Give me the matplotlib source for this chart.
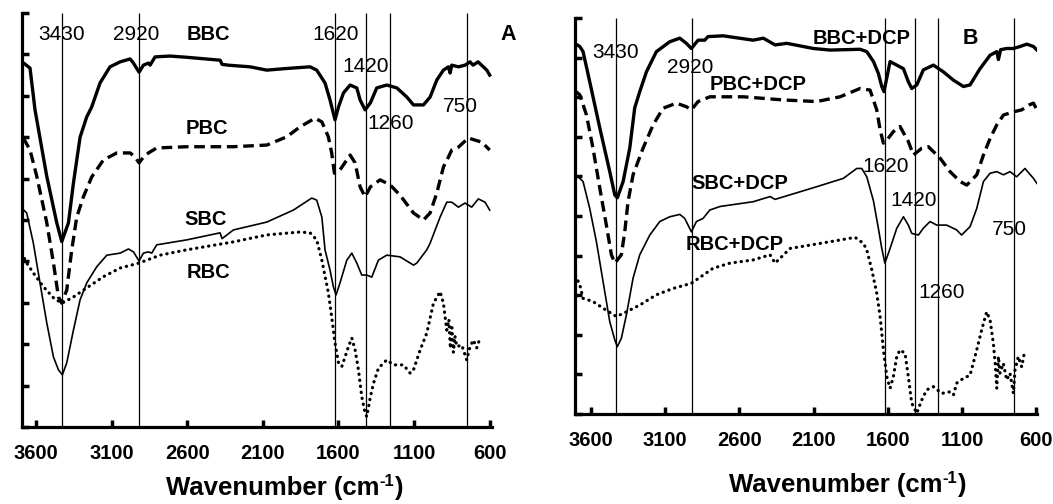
import matplotlib.pyplot as plt
from matplotlib.transforms import offset_copy

plt.rcParams['font.family'] = ['Liberation Sans', 'DejaVu Sans']

peaks = [3430, 2920, 1620, 1420, 1260, 750]
xticks = [3600, 3100, 2600, 2100, 1600, 1100, 600]

# ---- panel A ----
bbc_wn = [3693, 3640, 3607, 3529, 3463, 3430, 3386, 3353, 3309, 3265, 3232, 3177, 3111, 3044, 2978, 2956, 2919,
          2890, 2857, 2846, 2813, 2714, 2603, 2383, 2370, 2330, 2185, 2074, 1942, 1788, 1744, 1689, 1656, 1634, 1623,
          1600, 1567, 1523, 1479, 1457, 1424, 1389, 1347, 1281, 1214, 1148, 1104, 1038, 994, 950, 906, 873, 862,
          851, 807, 763, 730, 710, 677, 619, 600]
bbc_val = [8.82, 8.67, 7.66, 6.05, 4.93, 4.48, 4.93, 5.89, 7.0, 7.49, 7.73, 8.31, 8.70, 8.82, 8.89, 8.79, 8.57,
           8.74, 8.79, 8.74, 8.94, 8.96, 8.93, 8.86, 8.76, 8.74, 8.70, 8.62, 8.66, 8.70, 8.62, 8.31, 7.90, 7.58, 7.42,
           7.73, 8.07, 8.26, 8.19, 7.90, 7.66, 7.83, 8.19, 8.26, 8.19, 7.97, 7.78, 7.78, 7.97, 8.38, 8.62, 8.70, 8.55,
           8.74, 8.70, 8.74, 8.82, 8.74, 8.82, 8.62, 8.50]

pbc_wn = [3684, 3640, 3595, 3529, 3485, 3452, 3430, 3397, 3364, 3331, 3287, 3232, 3155, 3066, 2978, 2945, 2919,
          2890, 2857, 2802, 2603, 2297, 2074, 1942, 1854, 1755, 1710, 1667, 1645, 1627, 1590, 1523, 1490, 1457,
          1424, 1389, 1325, 1259, 1193, 1104, 1038, 994, 950, 906, 873, 851, 807, 741, 697, 652, 600]
pbc_val = [6.98, 6.69, 6.05, 4.93, 3.96, 3.14, 2.99, 3.31, 4.28, 5.07, 5.56, 6.04, 6.45, 6.62, 6.62, 6.52, 6.38,
           6.52, 6.62, 6.74, 6.77, 6.77, 6.81, 7.01, 7.25, 7.46, 7.37, 7.01, 6.62, 6.13, 6.21, 6.57, 6.38, 5.80,
           5.56, 5.80, 5.97, 5.85, 5.60, 5.17, 5.00, 5.17, 5.65, 6.28, 6.52, 6.69, 6.76, 6.98, 6.93, 6.88, 6.69]

sbc_wn = [3695, 3662, 3618, 3574, 3529, 3485, 3452, 3426, 3397, 3353, 3309, 3265, 3199, 3132, 3044, 2989, 2956,
          2919, 2890, 2857, 2835, 2802, 2603, 2383, 2370, 2295, 2074, 1898, 1777, 1744, 1710, 1689, 1656, 1634,
          1616, 1590, 1545, 1512, 1479, 1446, 1413, 1380, 1336, 1281, 1193, 1104, 1082, 1016, 994, 928, 884, 851,
          807, 763, 719, 675, 631, 600]
sbc_val = [5.29, 5.17, 4.44, 3.48, 2.51, 1.69, 1.38, 1.26, 1.55, 2.34, 3.07, 3.48, 3.87, 4.15, 4.20, 4.30, 4.23,
           4.01, 4.20, 4.23, 4.20, 4.40, 4.52, 4.69, 4.55, 4.76, 4.95, 5.24, 5.53, 5.48, 5.07, 4.28, 3.79, 3.39,
           3.19, 3.48, 4.03, 4.20, 3.96, 3.67, 3.67, 3.62, 4.03, 4.15, 4.11, 3.91, 3.96, 4.28, 4.44, 5.07, 5.43, 5.43,
           5.31, 5.41, 5.31, 5.51, 5.43, 5.24]

rbc_wn = [3695, 3662, 3618, 3552, 3485, 3430, 3353, 3265, 3155, 3044, 2919, 2780, 2603, 2297, 2074, 1854, 1788,
          1744, 1710, 1667, 1645, 1623, 1600, 1578, 1556, 1534, 1512, 1490, 1468, 1446, 1424, 1413, 1389, 1368,
          1336, 1281, 1236, 1170, 1126, 1104, 1060, 1016, 972, 928, 906, 884, 870, 860, 850, 840, 830, 818, 785,
          752, 730, 708, 686, 664]
rbc_val = [4.20, 3.96, 3.72, 3.39, 3.12, 2.99, 3.14, 3.36, 3.63, 3.84, 3.96, 4.15, 4.28, 4.47, 4.64, 4.71, 4.69,
           4.52, 4.03, 3.24, 2.66, 2.03, 1.55, 1.46, 1.70, 1.94, 2.15, 1.86, 1.38, 0.73, 0.34, 0.25, 0.73, 1.06,
           1.42, 1.62, 1.50, 1.50, 1.30, 1.38, 1.86, 2.27, 2.99, 3.27, 2.99, 2.34, 2.60, 1.90, 2.40, 1.80, 2.20, 1.94,
           1.98, 1.62, 1.94, 2.10, 1.91, 2.15]

# ---- panel B ----
bbcd_wn = [3705, 3676, 3654, 3609, 3541, 3474, 3440, 3423, 3384, 3339, 3306, 3272, 3227, 3160, 3070, 3002, 2958,
           2924, 2879, 2834, 2812, 2711, 2508, 2439, 2360, 2281, 2102, 1990, 1787, 1742, 1697, 1664, 1641, 1626,
           1585, 1540, 1495, 1462, 1439, 1405, 1361, 1293, 1226, 1158, 1091, 1046, 979, 911, 866, 855, 840, 799,
           754, 709, 664, 619, 595]
bbcd_val = [9.35, 9.28, 9.15, 8.39, 7.22, 6.12, 5.53, 5.46, 5.87, 6.72, 7.73, 8.14, 8.64, 9.15, 9.40, 9.49, 9.36,
            9.23, 9.44, 9.44, 9.53, 9.55, 9.44, 9.49, 9.32, 9.36, 9.23, 9.19, 9.21, 9.15, 8.90, 8.60, 8.27, 8.14,
            8.90, 8.81, 8.72, 8.39, 8.22, 8.31, 8.69, 8.81, 8.64, 8.43, 8.27, 8.31, 8.72, 9.06, 9.15, 8.95, 9.20,
            9.23, 9.23, 9.28, 9.34, 9.28, 9.19]

pbcd_wn = [3705, 3676, 3631, 3587, 3541, 3497, 3463, 3440, 3396, 3373, 3351, 3317, 3250, 3182, 3115, 3025, 2958,
           2924, 2879, 2800, 2573, 2304, 2079, 1922, 1787, 1720, 1675, 1652, 1630, 1600, 1563, 1518, 1462, 1428,
           1372, 1327, 1248, 1181, 1113, 1068, 1001, 956, 911, 866, 821, 754, 698, 650, 619, 595]
pbcd_val = [8.15, 8.06, 7.55, 6.71, 5.70, 4.77, 4.02, 3.81, 4.02, 4.60, 5.36, 6.04, 6.71, 7.30, 7.72, 7.85, 7.76,
            7.68, 7.89, 8.01, 8.01, 7.93, 7.89, 8.01, 8.22, 8.18, 7.68, 7.17, 6.84, 6.95, 7.13, 7.26, 6.88, 6.54,
            6.71, 6.75, 6.46, 6.12, 5.87, 5.78, 6.04, 6.54, 6.96, 7.30, 7.55, 7.63, 7.68, 7.80, 7.85, 7.68]

sbcd_wn = [3705, 3676, 3654, 3609, 3564, 3519, 3474, 3440, 3423, 3396, 3362, 3317, 3272, 3204, 3137, 3070, 3002,
           2969, 2924, 2890, 2845, 2800, 2731, 2508, 2394, 2360, 2079, 1900, 1810, 1776, 1742, 1697, 1664, 1641,
           1620, 1585, 1540, 1495, 1462, 1439, 1394, 1361, 1316, 1271, 1204, 1137, 1103, 1046, 1001, 956, 911, 866,
           821, 777, 732, 676, 619, 595]
sbcd_val = [6.05, 5.95, 5.87, 5.19, 4.35, 3.34, 2.33, 1.87, 1.70, 1.91, 2.50, 3.43, 4.02, 4.52, 4.86, 4.98, 5.04,
            4.94, 4.60, 4.86, 4.94, 5.15, 5.24, 5.36, 5.49, 5.42, 5.74, 5.95, 6.20, 6.20, 5.99, 5.38, 4.69, 4.18,
            3.81, 4.18, 4.69, 4.98, 4.77, 4.56, 4.52, 4.69, 4.86, 4.77, 4.77, 4.65, 4.52, 4.73, 5.19, 5.87, 6.08,
            6.12, 6.04, 6.12, 5.99, 6.20, 5.95, 5.82]

rbcd_wn = [3705, 3676, 3654, 3587, 3519, 3429, 3362, 3272, 3160, 3047, 2924, 2778, 2663, 2508, 2394, 2360, 2327,
           2259, 1990, 1821, 1765, 1742, 1708, 1675, 1652, 1630, 1607, 1585, 1563, 1540, 1518, 1484, 1462, 1439,
           1405, 1372, 1338, 1293, 1237, 1181, 1158, 1136, 1091, 1046, 1001, 968, 934, 911, 889, 877, 866, 855,
           844, 822, 799, 777, 754, 743, 721, 698, 676]
rbcd_val = [3.50, 3.26, 2.92, 2.84, 2.67, 2.46, 2.58, 2.75, 3.01, 3.17, 3.30, 3.68, 3.81, 3.89, 4.02, 3.81, 3.93,
            4.18, 4.35, 4.46, 4.31, 4.14, 3.64, 3.05, 2.46, 1.62, 0.94, 0.65, 0.94, 1.45, 1.62, 1.53, 0.94, 0.27,
            0.02, 0.35, 0.61, 0.69, 0.52, 0.56, 0.48, 0.78, 0.90, 0.98, 1.62, 2.12, 2.58, 2.37, 1.78, 1.28, 0.65,
            1.45, 1.03, 1.28, 0.86, 1.03, 0.52, 1.11, 1.45, 1.19, 1.62]

thick = dict(color='black', lw=2.4, solid_joinstyle='round')
dashed = dict(color='black', lw=2.4, linestyle=(0, (3.2, 1.7)))
thin = dict(color='black', lw=1.2, solid_joinstyle='round')
dotted = dict(color='black', lw=2.3, linestyle=(0, (0.1, 1.8)), dash_capstyle='round')

fig = plt.figure(figsize=(10.53, 5.04), dpi=100)
axA = fig.add_axes([0.0209, 0.1528, 0.4463, 0.8214])
axB = fig.add_axes([0.5461, 0.1786, 0.4387, 0.7857])


def style_axis(ax, xlim):
    ax.set_xlim(*xlim)
    ax.set_ylim(0, 10)
    for s in ['top', 'right']:
        ax.spines[s].set_visible(False)
    for s in ['left', 'bottom']:
        ax.spines[s].set_linewidth(2.3)
    ax.set_yticks(range(11))
    ax.set_yticklabels([])
    ax.set_xticks(xticks)
    ax.set_xticklabels([str(t) for t in xticks], fontsize=14.5, fontweight='bold')
    ax.tick_params(direction='in', length=5, width=2.5, pad=12)
    ax.vlines(peaks, 0, 10, color='black', lw=0.9, zorder=1)


style_axis(axA, (3693, 585))
axA.plot(bbc_wn, bbc_val, **thick)
axA.plot(pbc_wn, pbc_val, **dashed)
axA.plot(sbc_wn, sbc_val, **thin)
axA.plot(rbc_wn, rbc_val, **dotted)

num = dict(fontsize=15, ha='center', va='center')
lab = dict(fontsize=14.5, fontweight='bold', ha='center', va='center')
axA.text(3430, 9.47, '3430', **num)
axA.text(2939, 9.47, '2920', **num)
axA.text(1616, 9.47, '1620', **num)
axA.text(1418, 8.70, '1420', **num)
axA.text(1252, 7.34, '1260', **num)
axA.text(796, 7.73, '750', **num)
axA.text(2462, 9.47, 'BBC', **lab)
axA.text(2469, 7.22, 'PBC', **lab)
axA.text(2482, 5.0, 'SBC', **lab)
axA.text(2462, 3.74, 'RBC', **lab)
axA.text(478, 9.47, 'A', fontsize=15.5, fontweight='bold', ha='center', va='center')

style_axis(axB, (3708, 595))
axB.plot(bbcd_wn, bbcd_val, **thick)
axB.plot(pbcd_wn, pbcd_val, **dashed)
axB.plot(sbcd_wn, sbcd_val, **thin)
axB.plot(rbcd_wn, rbcd_val, **dotted)

axB.text(3432, 9.12, '3430', **num)
axB.text(2933, 8.74, '2920', **num)
axB.text(1612, 6.24, '1620', **num)
axB.text(1423, 5.40, '1420', **num)
axB.text(1235, 3.06, '1260', **num)
axB.text(783, 4.65, '750', **num)
axB.text(1774, 9.47, 'BBC+DCP', **lab)
axB.text(2475, 8.31, 'PBC+DCP', **lab)
axB.text(2596, 5.83, 'SBC+DCP', **lab)
axB.text(2630, 4.27, 'RBC+DCP', **lab)
axB.text(1046, 9.49, 'B', fontsize=15.5, fontweight='bold', ha='center', va='center')


# x label with a small hyphen superscript, built from three pieces
def draw_xlabel(xc, yc):
    renderer = fig.canvas.get_renderer()
    pieces = [('Wavenumber (cm', 18.5, 0), ('-1', 12, 9), (')', 18.5, 0)]
    texts, widths = [], []
    for s, size, _ in pieces:
        t = fig.text(0, 0, s, fontsize=size, fontweight='bold', ha='left', va='baseline')
        widths.append(t.get_window_extent(renderer).width)
        texts.append(t)
    x0 = xc * fig.bbox.width - sum(widths) / 2
    for t, w, (_, _, dy) in zip(texts, widths, pieces):
        t.set_transform(offset_copy(fig.transFigure, fig=fig, x=x0, y=dy, units='dots'))
        t.set_position((0, yc))
        x0 += w


draw_xlabel(0.2697, 0.0317 - 0.014)
draw_xlabel(0.8044, 0.0377 - 0.014)

fig.savefig('out.png', dpi=100)
